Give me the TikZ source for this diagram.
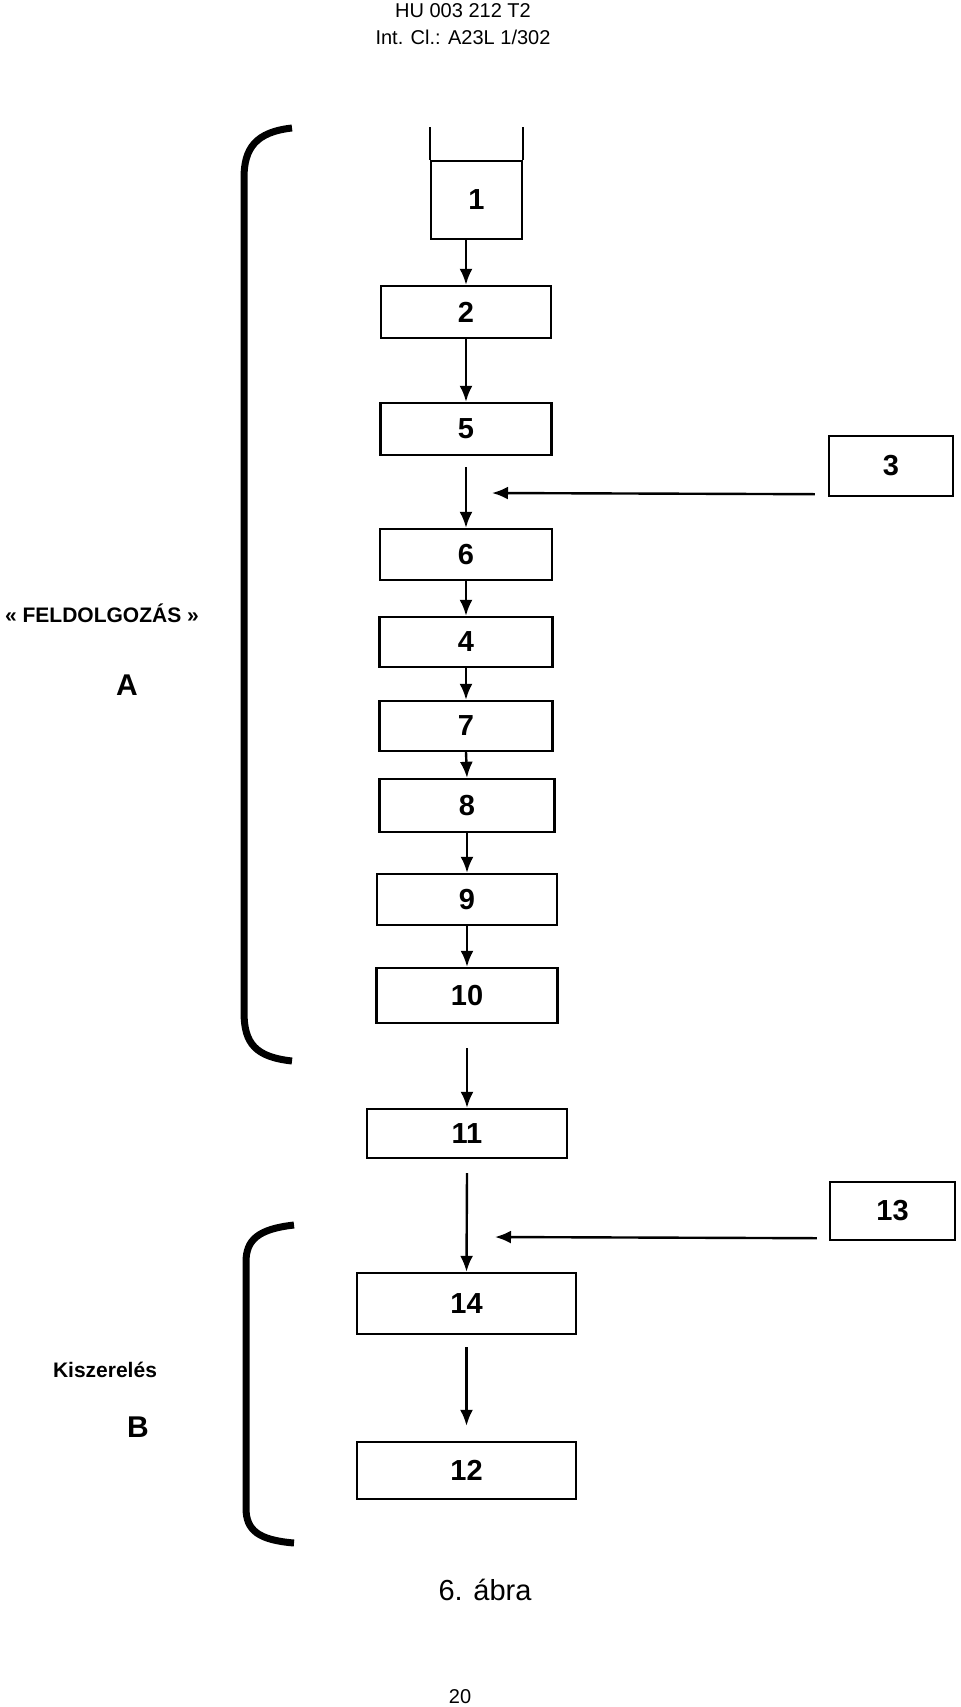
\documentclass[tikz,border=0pt]{standalone}
\usepackage{fontspec}
\setmainfont{Liberation Sans}
\usetikzlibrary{arrows.meta}

\begin{document}
\begin{tikzpicture}[x=0.5pt, y=-0.5pt, line width=1.2pt, >={Latex[length=8pt,width=6.5pt]},
  box/.style={draw, inner sep=0pt, font=\bfseries\fontsize{14.5}{16}\selectfont},
  brace/.style={line width=3.5pt},
  lbl/.style={anchor=base, font=\bfseries\fontsize{10.5}{12}\selectfont},
  big/.style={anchor=base, font=\bfseries\fontsize{15}{17}\selectfont}]
\useasboundingbox (0,0) rectangle (960,1707);
\node[anchor=base, font=\fontsize{10}{12}\selectfont] (hdr) at (463,18) {HU 003 212 T2};
\node[anchor=base, font=\fontsize{10}{12}\selectfont] (cls) at (463,45) {Int. Cl.: A23L 1/302};
\node[box, minimum width=45.5pt, minimum height=39pt] (b1) at (476.5,200) {1};
\draw (b1.north west) -- +(0,16.5pt);
\draw (b1.north east) -- +(0,16.5pt);
\node[box, minimum width=85pt, minimum height=26pt] (b2) at (466,312) {2};
\node[box, minimum width=85.5pt, minimum height=26pt] (b5) at (466,429) {5};
\node[box, minimum width=62pt, minimum height=30pt] (b3) at (891,466) {3};
\node[box, minimum width=86pt, minimum height=25.5pt] (b6) at (466,554.5) {6};
\node[box, minimum width=86.5pt, minimum height=25pt] (b4) at (466,642) {4};
\node[box, minimum width=86.5pt, minimum height=25pt] (b7) at (466,726) {7};
\node[box, minimum width=87.5pt, minimum height=26.5pt] (b8) at (467,805.5) {8};
\node[box, minimum width=90pt, minimum height=25.5pt] (b9) at (467,899.5) {9};
\node[box, minimum width=90.5pt, minimum height=27.5pt] (b10) at (467,995.5) {10};
\node[box, minimum width=100pt, minimum height=24.5pt] (b11) at (467,1133.5) {11};
\node[box, minimum width=62.5pt, minimum height=29pt] (b13) at (892.5,1211) {13};
\node[box, minimum width=109.5pt, minimum height=30.5pt] (b14) at (466.5,1303.5) {14};
\node[box, minimum width=109.5pt, minimum height=28.5pt] (b12) at (466.5,1470.5) {12};
\coordinate (m3) at (492,493);
\coordinate (m13) at (495,1237);
\draw[->] (b1.south -| b2.north) -- (b2.north);
\draw[->] (b2.south) -- (b5.north);
\draw[->] ([yshift=-5.5pt]b5.south) -- (b6.north);
\draw[->] ([xshift=-6.5pt,yshift=1.5pt]b3.south west) -- (m3);
\draw[->] (b6.south) -- (b4.north);
\draw[->] (b4.south) -- (b7.north);
\draw[->] (b7.south) -- (b8.north);
\draw[->] (b8.south) -- (b9.north);
\draw[->] (b9.south) -- (b10.north);
\draw[->] ([yshift=-12pt]b10.south) -- (b11.north);
\draw[->] ([yshift=-7pt]b11.south) -- (b14.north);
\draw[->] ([xshift=-6pt,yshift=1.5pt]b13.south west) -- (m13);
\draw[->] ([yshift=-6pt]b14.south) -- ([yshift=7.5pt]b12.north);
\draw[brace] (292,128) .. controls (256,132) and (244,148) .. (244,178) -- (244,1012) .. controls (244,1044) and (256,1057) .. (292,1061);
\draw[brace] (294,1225) .. controls (258,1229) and (246,1240) .. (246,1262) -- (246,1508) .. controls (246,1530) and (258,1540) .. (294,1543);
\node[lbl] (fel) at (102,622) {« FELDOLGOZÁS »};
\node[big] (la) at (127,695) {A};
\node[lbl] (kisz) at (105,1377) {Kiszerelés};
\node[big] (lb) at (138,1437) {B};
\node[anchor=base, font=\fontsize{14.5}{17}\selectfont] (abra) at (485,1600) {6. ábra};
\node[anchor=base, font=\fontsize{10}{12}\selectfont] (pg) at (460,1703) {20};
\end{tikzpicture}
\end{document}
